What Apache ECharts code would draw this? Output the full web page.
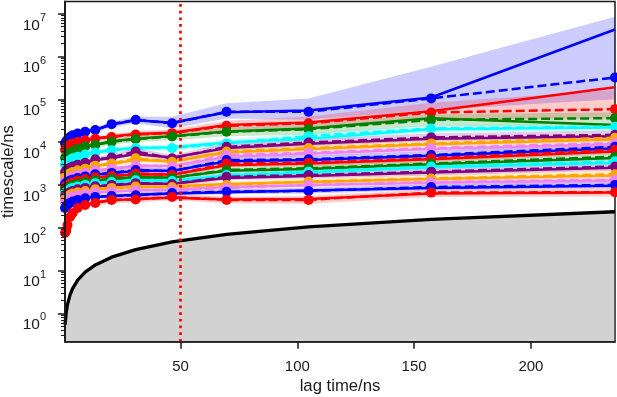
<!DOCTYPE html>
<html><head><meta charset="utf-8">
<script src="https://cdn.jsdelivr.net/npm/echarts@6/dist/echarts.min.js"></script>
<style>html,body{margin:0;padding:0;background:#fff}#chart{width:617px;height:397px}</style>
</head><body><div id="chart"></div>
<script>
// ---- data (lag times in ns, implied timescales in ns) ----
const lagTimes = [0.54, 1.08, 1.62, 2.7, 3.78, 5.94, 9.18, 13.5, 20.5, 30.8, 46.4, 69.7, 104.8, 157.3, 236];
const xTickValues = [50, 100, 150, 200];
const yTickValues = [1, 10, 100, 1000, 10000, 100000, 1000000, 10000000];
const cutoffLag = 50;
const processColors = ['#0000ff', '#ff0000', '#008000', '#00ffff', '#800080', '#ffa500', '#ee82ee'];

const mle0 = [9330, 10500, 11500, 13200, 14500, 15800, 17400, 19500, 25700, 32400, 28200, 50100, 55000, 110000, 4270000];
const mean0 = [9330, 10500, 11500, 13200, 14500, 15800, 17400, 19100, 26300, 33100, 27500, 51300, 51300, 105000, 324000];
const lo0 = [8320, 9330, 10200, 11700, 12900, 14100, 15500, 16600, 21900, 27500, 20900, 35500, 33100, 56200, 100000];
const hi0 = [10500, 11700, 12900, 14800, 16200, 17800, 20000, 21900, 30200, 39800, 38900, 81300, 105000, 575000, 8510000];

const mle1 = [6760, 7590, 8130, 8910, 9550, 10200, 11200, 12300, 13500, 15500, 16600, 25100, 28800, 52500, 191000];
const mean1 = [6610, 7410, 7940, 8710, 9330, 10000, 11000, 12000, 13200, 15100, 16200, 24000, 27500, 49000, 58900];
const lo1 = [5750, 6460, 6920, 7590, 8130, 8710, 9550, 10500, 11500, 12900, 13200, 19100, 20900, 33100, 35500];
const hi1 = [7590, 8510, 9120, 10000, 10700, 11500, 12600, 13800, 15500, 18200, 20000, 31600, 39800, 83200, 166000];

const mle2 = [4370, 4900, 5250, 5750, 6170, 7080, 7940, 8710, 10500, 12000, 13800, 17800, 20900, 36300, 25100];
const mean2 = [4270, 4790, 5130, 5620, 6030, 6920, 7940, 8510, 10200, 11700, 13500, 17400, 20000, 33100, 36300];
const lo2 = [3720, 4170, 4470, 4900, 5250, 6030, 6920, 7410, 8710, 10000, 11000, 13800, 15100, 24000, 22900];
const hi2 = [4900, 5500, 5890, 6460, 6920, 7940, 9120, 10000, 12000, 14100, 16600, 21900, 26300, 44700, 50100];

const mle3 = [3020, 3310, 3550, 3890, 4270, 4680, 5250, 5890, 6610, 7240, 7590, 9770, 12000, 20000, 21900];
const mean3 = [2950, 3240, 3470, 3800, 4170, 4570, 5130, 5750, 6460, 7240, 7240, 9330, 13800, 20900, 22900];
const lo3 = [2630, 2880, 3090, 3390, 3720, 4070, 4470, 5010, 5620, 6170, 6170, 7590, 10500, 16600, 18200];
const hi3 = [3310, 3630, 3890, 4270, 4680, 5130, 5890, 6610, 7590, 8510, 8710, 11700, 16600, 25100, 28200];

const mle4 = [2040, 2240, 2400, 2570, 2750, 3020, 3390, 3800, 4270, 5250, 4370, 7240, 9120, 12000, 13800];
const mean4 = [2000, 2190, 2340, 2510, 2690, 2950, 3310, 3980, 4370, 6030, 4170, 7760, 9770, 12900, 14800];
const lo4 = [1780, 1950, 2090, 2240, 2400, 2630, 2880, 3390, 3720, 4900, 3470, 6310, 7940, 10500, 11700];
const hi4 = [2240, 2450, 2630, 2820, 3020, 3310, 3800, 4570, 5130, 7240, 5010, 9550, 12000, 15800, 18600];

const mle5 = [1550, 1660, 1780, 1910, 2040, 2240, 2450, 2750, 3090, 3800, 3550, 5750, 6920, 8910, 11500];
const mean5 = [1510, 1620, 1740, 1860, 2000, 2190, 2400, 2820, 3160, 4170, 3470, 6030, 7240, 9330, 12600];
const lo5 = [1350, 1450, 1550, 1660, 1780, 1950, 2090, 2450, 2750, 3470, 2950, 5010, 6030, 7760, 10200];
const hi5 = [1700, 1820, 1950, 2090, 2240, 2450, 2750, 3240, 3630, 4900, 4070, 7240, 8710, 11200, 15500];

const mle6 = [1260, 1350, 1410, 1510, 1620, 1780, 1950, 2140, 2340, 2750, 2750, 4570, 5370, 6920, 8910];
const mean6 = [1230, 1320, 1380, 1480, 1580, 1740, 1910, 2190, 2400, 2880, 2690, 5010, 5620, 7240, 9550];
const lo6 = [1100, 1170, 1230, 1320, 1410, 1550, 1700, 1910, 2090, 2450, 2290, 4170, 4570, 5890, 7590];
const hi6 = [1380, 1480, 1550, 1660, 1780, 1950, 2140, 2510, 2750, 3390, 3160, 6030, 6920, 8910, 12000];

const mle7 = [1070, 1150, 1200, 1290, 1350, 1480, 1620, 1740, 1860, 2140, 2140, 3550, 3800, 4790, 7080];
const mean7 = [1050, 1120, 1170, 1260, 1320, 1450, 1580, 1780, 1910, 2240, 2090, 3800, 3980, 5010, 7760];
const lo7 = [933, 1000, 1050, 1120, 1170, 1290, 1410, 1550, 1660, 1910, 1780, 3160, 3240, 4070, 6170];
const hi7 = [1170, 1260, 1320, 1410, 1480, 1620, 1780, 2040, 2190, 2630, 2450, 4570, 4900, 6170, 9770];

const mle8 = [912, 977, 1020, 1100, 1170, 1290, 1410, 1480, 1580, 1780, 1740, 2880, 3160, 3980, 6030];
const mean8 = [891, 955, 1000, 1070, 1150, 1260, 1380, 1510, 1620, 1860, 1700, 3160, 3310, 4170, 6610];
const lo8 = [794, 851, 891, 955, 1020, 1120, 1230, 1320, 1410, 1580, 1450, 2630, 2690, 3390, 5250];
const hi8 = [1000, 1070, 1120, 1200, 1290, 1410, 1550, 1740, 1860, 2190, 2000, 3800, 4070, 5130, 8320];

const mle9 = [776, 832, 871, 933, 1000, 1100, 1200, 1260, 1350, 1510, 1480, 2140, 2340, 3020, 4270];
const mean9 = [759, 813, 851, 912, 977, 1070, 1170, 1290, 1380, 1550, 1450, 2240, 2450, 3160, 4570];
const lo9 = [676, 724, 759, 813, 871, 955, 1050, 1120, 1200, 1320, 1230, 1860, 2040, 2570, 3630];
const hi9 = [851, 912, 955, 1020, 1100, 1200, 1320, 1480, 1580, 1820, 1700, 2690, 2950, 3890, 5750];

const mle10 = [661, 708, 759, 813, 871, 933, 1020, 1070, 1150, 1260, 1260, 1620, 1950, 2570, 3310];
const mean10 = [646, 692, 741, 794, 851, 912, 1000, 1100, 1170, 1290, 1230, 1700, 2040, 2690, 3550];
const lo10 = [575, 617, 661, 708, 759, 813, 891, 955, 1020, 1100, 1050, 1410, 1700, 2190, 2820];
const hi10 = [724, 776, 832, 891, 955, 1020, 1120, 1260, 1350, 1510, 1450, 2040, 2450, 3310, 4470];

const mle11 = [562, 603, 646, 692, 741, 813, 871, 912, 977, 1070, 1070, 1450, 1620, 1950, 2510];
const mean11 = [550, 589, 631, 676, 724, 794, 851, 933, 1000, 1100, 1050, 1550, 1700, 2040, 2690];
const lo11 = [490, 525, 562, 603, 646, 708, 759, 813, 871, 933, 891, 1290, 1410, 1660, 2140];
const hi11 = [617, 661, 708, 759, 813, 891, 955, 1070, 1150, 1290, 1230, 1860, 2040, 2510, 3390];

const mle12 = [479, 513, 550, 603, 646, 692, 741, 776, 832, 891, 912, 1050, 1170, 1380, 1660];
const mean12 = [468, 501, 537, 589, 631, 676, 724, 794, 851, 912, 891, 1000, 1200, 1410, 1780];
const lo12 = [417, 447, 479, 525, 562, 603, 646, 692, 741, 776, 759, 832, 1000, 1150, 1410];
const hi12 = [525, 562, 603, 661, 708, 759, 813, 912, 977, 1070, 1050, 1200, 1450, 1740, 2240];

const mle13 = [407, 437, 468, 513, 550, 589, 631, 661, 692, 741, 776, 891, 977, 1120, 1260];
const mean13 = [398, 427, 457, 501, 537, 575, 617, 676, 708, 759, 759, 851, 1000, 1170, 1320];
const lo13 = [355, 380, 407, 447, 479, 513, 550, 589, 617, 646, 646, 708, 832, 955, 1050];
const hi13 = [447, 479, 513, 562, 603, 646, 692, 776, 813, 891, 891, 1020, 1200, 1450, 1660];

const mle14 = [295, 324, 355, 389, 417, 457, 501, 525, 550, 589, 631, 676, 741, 851, 955];
const mean14 = [288, 316, 347, 380, 407, 447, 490, 525, 550, 575, 646, 692, 724, 891, 1000];
const lo14 = [257, 282, 309, 339, 363, 398, 437, 468, 490, 513, 562, 603, 631, 759, 832];
const hi14 = [324, 355, 389, 427, 457, 501, 550, 589, 617, 661, 741, 794, 851, 1050, 1200];

const mle15 = [79.4, 91.2, 123, 186, 229, 295, 347, 389, 437, 468, 501, 457, 468, 631, 661];
const mean15 = [75.9, 85.1, 115, 178, 219, 288, 339, 380, 447, 457, 525, 447, 447, 661, 676];
const lo15 = [60.3, 69.2, 93.3, 148, 182, 245, 288, 324, 380, 389, 437, 372, 363, 525, 537];
const hi15 = [95.5, 107, 141, 214, 263, 339, 398, 447, 525, 550, 617, 537, 550, 794, 832];

const mleSets = [mle0, mle1, mle2, mle3, mle4, mle5, mle6, mle7, mle8, mle9, mle10, mle11, mle12, mle13, mle14, mle15];
const meanSets = [mean0, mean1, mean2, mean3, mean4, mean5, mean6, mean7, mean8, mean9, mean10, mean11, mean12, mean13, mean14, mean15];
const loSets = [lo0, lo1, lo2, lo3, lo4, lo5, lo6, lo7, lo8, lo9, lo10, lo11, lo12, lo13, lo14, lo15];
const hiSets = [hi0, hi1, hi2, hi3, hi4, hi5, hi6, hi7, hi8, hi9, hi10, hi11, hi12, hi13, hi14, hi15];

// ---- chart ----
const FONT = 'Liberation Sans, Arial, sans-serif';
const TXT = '#1a1a1a';
function rgba(hex, a) {
  const n = parseInt(hex.slice(1), 16);
  return 'rgba(' + ((n >> 16) & 255) + ',' + ((n >> 8) & 255) + ',' + (n & 255) + ',' + a + ')';
}
const yMin = 0.217, yMax = 1.93e7;
const minorTicks = [];
for (let e = -1; e <= 7; e++) {
  for (let m = 2; m <= 9; m++) {
    const v = m * Math.pow(10, e);
    if (v > yMin && v < yMax) minorTicks.push(v);
  }
}

const series = [];
for (let i = 0; i < mleSets.length; i++) {
  const c = processColors[i % processColors.length];
  const lo = loSets[i], hi = hiSets[i];
  series.push({
    type: 'custom', z: 1, silent: true, clip: true,
    data: lagTimes.map((l, k) => [l, lo[k], hi[k]]),
    encode: { x: 0, y: [1, 2] },
    renderItem: function (params, api) {
      if (params.dataIndex !== 0) return null;
      const pts = [];
      for (let k = 0; k < lagTimes.length; k++) pts.push(api.coord([lagTimes[k], hi[k]]));
      for (let k = lagTimes.length - 1; k >= 0; k--) pts.push(api.coord([lagTimes[k], lo[k]]));
      return { type: 'polygon', shape: { points: pts }, style: { fill: rgba(c, 0.2) } };
    }
  });
}
for (let i = 0; i < mleSets.length; i++) {
  const c = processColors[i % processColors.length];
  series.push({
    type: 'line', z: 3, silent: true, symbol: 'none', showSymbol: false,
    data: lagTimes.map((l, k) => [l, mleSets[i][k]]),
    lineStyle: { color: c, width: 2.5 }, itemStyle: { color: c }
  });
  series.push({
    type: 'line', z: 3, silent: true, symbol: 'circle', symbolSize: 10, showSymbol: true,
    data: lagTimes.map((l, k) => [l, meanSets[i][k]]),
    lineStyle: { color: c, width: 2.5, type: [9, 4] }, itemStyle: { color: c }
  });
}
series.push({
  type: 'line', z: 3, silent: true, symbol: 'none',
  data: lagTimes.map(l => [l, l]),
  lineStyle: { color: '#000', width: 3.3 },
  areaStyle: { color: 'rgba(128,128,128,0.5)', origin: 'start' }
});
series.push({
  type: 'line', z: 4, silent: true, data: [],
  markLine: {
    silent: true, symbol: ['none', 'none'], label: { show: false },
    lineStyle: { color: '#ff0000', width: 2.7, type: [2.7, 4] },
    data: [{ xAxis: cutoffLag }]
  }
});

const axisLineStyle = { color: '#1a1a1a', width: 1.5 };
const option = {
  animation: false,
  backgroundColor: '#fff',
  grid: { left: 65, right: 2, top: 1.5, bottom: 55.3, outerBoundsMode: 'none', containLabel: false, show: true, borderColor: '#1a1a1a', borderWidth: 1.5, backgroundColor: 'transparent' },
  xAxis: [{
    type: 'value', min: 0.54, max: 236, z: 10,
    axisLine: { show: true, lineStyle: axisLineStyle },
    axisTick: { show: true, customValues: xTickValues, length: 7, lineStyle: axisLineStyle },
    axisLabel: { customValues: xTickValues, margin: 18, fontSize: 15, fontFamily: FONT, color: TXT },
    splitLine: { show: false },
    name: 'lag time/ns', nameLocation: 'middle', nameGap: 36, nameMoveOverlap: false,
    nameTextStyle: { fontSize: 16.7, fontFamily: FONT, color: TXT }
  }],
  yAxis: [{
    type: 'log', logBase: 10, min: yMin, max: yMax, z: 10,
    axisLine: { show: true, lineStyle: axisLineStyle },
    axisTick: { show: true, customValues: yTickValues, length: 7, lineStyle: axisLineStyle },
    axisLabel: {
      customValues: yTickValues, margin: 19,
      formatter: v => '{b|10}{s|' + Math.round(Math.log10(v)) + '}',
      rich: {
        b: { fontSize: 15.5, lineHeight: 15, padding: [11, 0, 0, 0], verticalAlign: 'top', fontFamily: FONT, color: TXT },
        s: { fontSize: 11, lineHeight: 11, padding: [6, 0, 0, 0], verticalAlign: 'top', fontFamily: FONT, color: TXT }
      }
    },
    splitLine: { show: false }, minorTick: { show: false },
    name: 'timescale/ns', nameLocation: 'middle', nameGap: 48, nameMoveOverlap: false,
    nameTextStyle: { fontSize: 16.7, fontFamily: FONT, color: TXT }
  }, {
    type: 'log', logBase: 10, min: yMin, max: yMax, position: 'left', offset: 0, z: 10,
    axisLine: { show: true, onZero: false, lineStyle: axisLineStyle },
    axisTick: { show: true, customValues: minorTicks, length: 4, lineStyle: { color: '#1a1a1a', width: 1 } },
    axisLabel: { show: false }, splitLine: { show: false }
  }],
  series: series
};
const chart = echarts.init(document.getElementById('chart'), null, { renderer: 'canvas' });
chart.setOption(option);
</script></body></html>
